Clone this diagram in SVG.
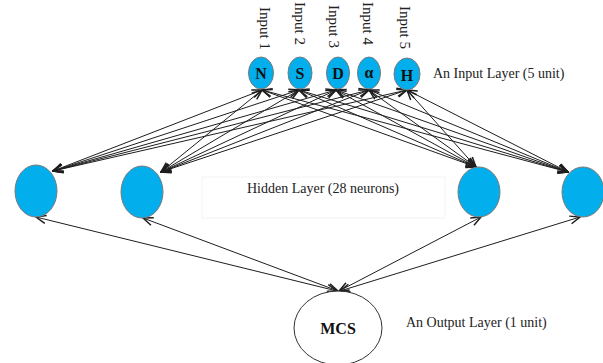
<svg xmlns="http://www.w3.org/2000/svg" width="603" height="363" viewBox="0 0 603 363">
  <style>
    .unit { fill: #02aeec; stroke: #7a7a7a; stroke-width: 1; }
    .out { fill: #ffffff; stroke: #333333; stroke-width: 1; }
    .link { stroke: #1e1e1e; stroke-width: 1; fill: none; marker-start: url(#arrow); marker-end: url(#arrow); }
    .sym { font-family: "Liberation Serif", "Times New Roman", serif; font-weight: bold; font-size: 16px; fill: #111; text-anchor: middle; }
    .cap { font-family: "Liberation Serif", "Times New Roman", serif; font-size: 14px; fill: #222; }
    .vcap { font-family: "Liberation Serif", "Times New Roman", serif; font-size: 15px; fill: #222; }
  </style>
  <defs>
    <marker id="arrow" markerUnits="userSpaceOnUse" markerWidth="12" markerHeight="12" viewBox="0 0 12 12" refX="11" refY="6" orient="auto-start-reverse">
      <path d="M1,2 L11,6 L1,10" fill="none" stroke="#1e1e1e" stroke-width="1.5"/>
    </marker>
  </defs>
  <rect width="603" height="363" fill="#ffffff"/>

  <!-- connectors -->
  <g id="connectors">
    <!-- hidden 1 to inputs -->
    <line class="link" x1="53" y1="171" x2="262" y2="90"/>
    <line class="link" x1="53" y1="171" x2="299" y2="90"/>
    <line class="link" x1="53" y1="171" x2="336" y2="90"/>
    <line class="link" x1="53" y1="171" x2="369" y2="90"/>
    <line class="link" x1="53" y1="171" x2="407" y2="90"/>
    <!-- hidden 2 to inputs -->
    <line class="link" x1="161" y1="172" x2="262" y2="90"/>
    <line class="link" x1="161" y1="172" x2="299" y2="90"/>
    <line class="link" x1="161" y1="172" x2="336" y2="90"/>
    <line class="link" x1="161" y1="172" x2="369" y2="90"/>
    <line class="link" x1="161" y1="172" x2="407" y2="90"/>
    <!-- hidden 27 to inputs -->
    <line class="link" x1="476" y1="167" x2="262" y2="90"/>
    <line class="link" x1="476" y1="167" x2="299" y2="90"/>
    <line class="link" x1="476" y1="167" x2="336" y2="90"/>
    <line class="link" x1="476" y1="167" x2="369" y2="90"/>
    <line class="link" x1="476" y1="167" x2="407" y2="90"/>
    <!-- hidden 28 to inputs -->
    <line class="link" x1="568" y1="172" x2="262" y2="90"/>
    <line class="link" x1="568" y1="172" x2="299" y2="90"/>
    <line class="link" x1="568" y1="172" x2="336" y2="90"/>
    <line class="link" x1="568" y1="172" x2="369" y2="90" stroke-width="0.6"/>
    <line class="link" x1="568" y1="172" x2="407" y2="90"/>
    <!-- hidden to output -->
    <line class="link" x1="36" y1="217" x2="337" y2="291"/>
    <line class="link" x1="143" y1="218" x2="338" y2="291"/>
    <line class="link" x1="481" y1="217" x2="339" y2="291"/>
    <line class="link" x1="580" y1="217" x2="340" y2="291"/>
  </g>

  <!-- input layer -->
  <g id="in1">
    <ellipse class="unit" cx="261" cy="73" rx="12.5" ry="16"/>
    <text class="sym" x="261" y="79">N</text>
    <text class="vcap" transform="translate(260,7) rotate(90)">Input 1</text>
  </g>
  <g id="in2">
    <ellipse class="unit" cx="300" cy="73" rx="12" ry="16"/>
    <text class="sym" x="300" y="79">S</text>
    <text class="vcap" transform="translate(295,2) rotate(90)">Input 2</text>
  </g>
  <g id="in3">
    <ellipse class="unit" cx="338" cy="73" rx="11.5" ry="16"/>
    <text class="sym" x="338" y="79">D</text>
    <text class="vcap" transform="translate(329,5) rotate(90)">Input 3</text>
  </g>
  <g id="in4">
    <ellipse class="unit" cx="369" cy="73" rx="11.5" ry="16"/>
    <text class="sym" x="369" y="78">α</text>
    <text class="vcap" transform="translate(363,2) rotate(90)">Input 4</text>
  </g>
  <g id="in5">
    <ellipse class="unit" cx="407" cy="74" rx="13" ry="16"/>
    <text class="sym" x="407" y="81">H</text>
    <text class="vcap" transform="translate(400,6) rotate(90)">Input 5</text>
  </g>
  <text class="cap" x="433" y="78">An Input Layer (5 unit)</text>

  <!-- hidden layer -->
  <g id="h1"><ellipse class="unit" cx="36" cy="191" rx="21" ry="26"/></g>
  <g id="h2"><ellipse class="unit" cx="142" cy="192" rx="21" ry="26"/></g>
  <g id="h27"><ellipse class="unit" cx="479" cy="192" rx="21" ry="25"/></g>
  <g id="h28"><ellipse class="unit" cx="583" cy="192" rx="21" ry="25"/></g>
  <g id="hidden-label">
    <rect x="202" y="177" width="243" height="41" fill="none" stroke="#f3f3f3" stroke-width="1"/>
    <text class="cap" x="247" y="193" font-size="15">Hidden Layer (28 neurons)</text>
  </g>

  <!-- output layer -->
  <g id="out">
    <ellipse class="out" cx="338" cy="328" rx="44" ry="37"/>
    <text class="sym" x="338" y="334" font-size="18">MCS</text>
  </g>
  <text class="cap" x="406" y="327">An Output Layer (1 unit)</text>
</svg>
